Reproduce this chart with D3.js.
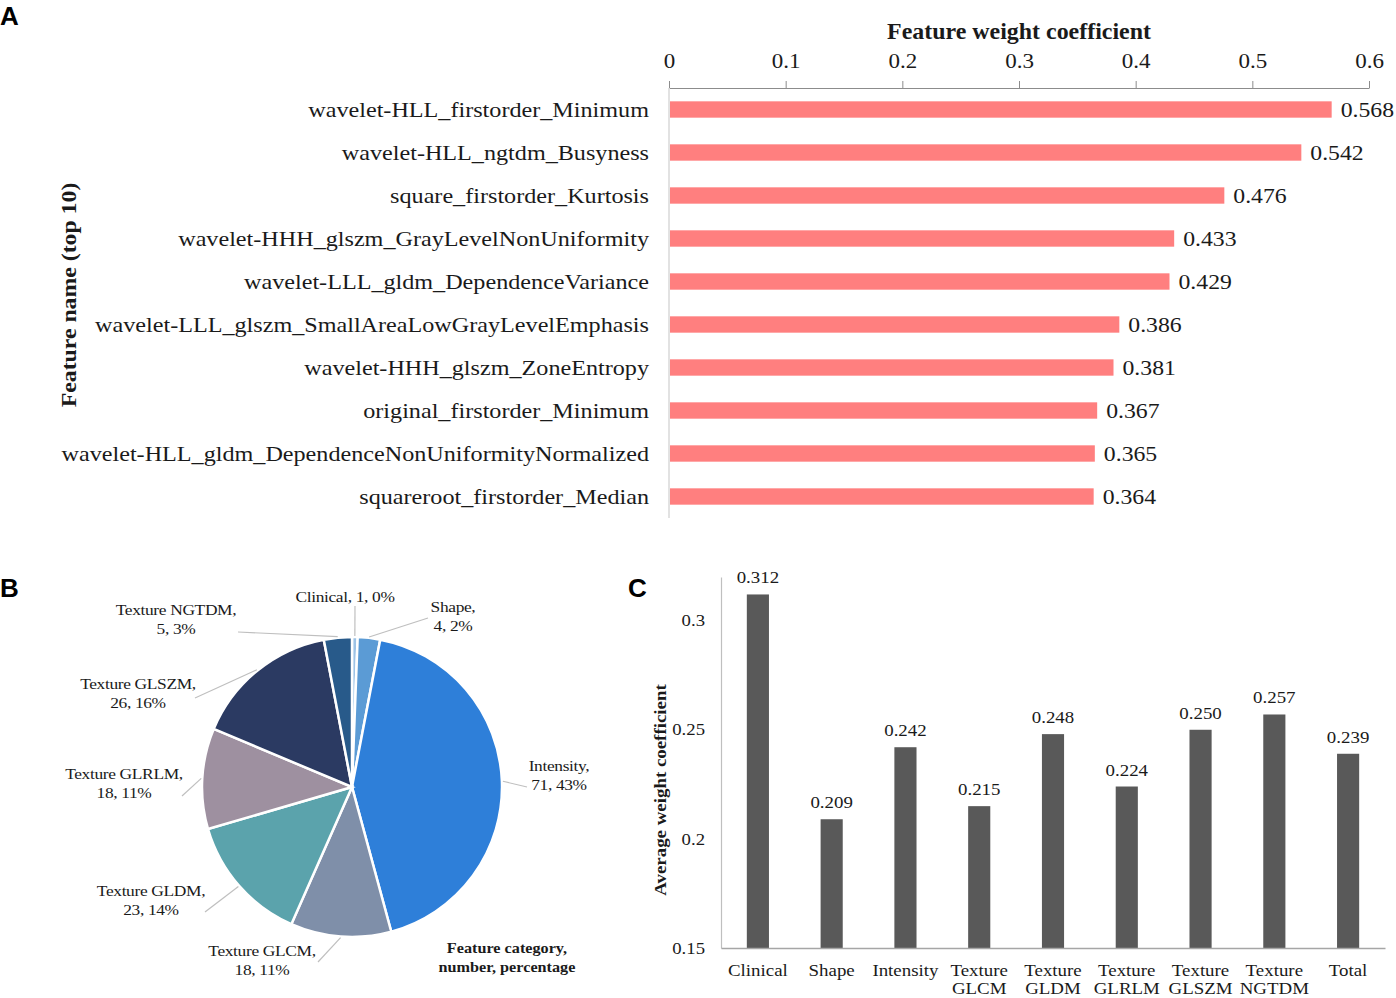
<!DOCTYPE html>
<html>
<head>
<meta charset="utf-8">
<script src="https://cdn.jsdelivr.net/npm/d3@7"></script>
<style>
  body { margin: 0; background: #fff; }
  text { font-family: "Liberation Serif", "Times New Roman", serif; fill: #1a1a1a; }
  .panel { font-family: "Liberation Sans", Arial, sans-serif; font-weight: bold; font-size: 26px; fill: #000; }
</style>
</head>
<body>
<svg id="fig" width="1396" height="998"></svg>
<script>
// ---- panel A data
var features = [
  "wavelet-HLL_firstorder_Minimum",
  "wavelet-HLL_ngtdm_Busyness",
  "square_firstorder_Kurtosis",
  "wavelet-HHH_glszm_GrayLevelNonUniformity",
  "wavelet-LLL_gldm_DependenceVariance",
  "wavelet-LLL_glszm_SmallAreaLowGrayLevelEmphasis",
  "wavelet-HHH_glszm_ZoneEntropy",
  "original_firstorder_Minimum",
  "wavelet-HLL_gldm_DependenceNonUniformityNormalized",
  "squareroot_firstorder_Median"
];
var weights = [0.568, 0.542, 0.476, 0.433, 0.429, 0.386, 0.381, 0.367, 0.365, 0.364];
var weightTicks = [0, 0.1, 0.2, 0.3, 0.4, 0.5, 0.6];

// ---- panel B data
var pieCats = ["Clinical", "Shape", "Intensity", "Texture GLCM", "Texture GLDM", "Texture GLRLM", "Texture GLSZM", "Texture NGTDM"];
var pieCounts = [1, 4, 71, 18, 23, 18, 26, 5];
var piePct = ["0%", "2%", "43%", "11%", "14%", "11%", "16%", "3%"];

// ---- panel C data
var groups = ["Clinical", "Shape", "Intensity", "Texture GLCM", "Texture GLDM", "Texture GLRLM", "Texture GLSZM", "Texture NGTDM", "Total"];
var avgWeights = [0.312, 0.209, 0.242, 0.215, 0.248, 0.224, 0.250, 0.257, 0.239];
var avgTicks = [0.15, 0.2, 0.25, 0.3];

var svg = d3.select("#fig");

// the source figure uses a wider serif, so stretch text horizontally
function stretch(sel, k) {
  sel.each(function() {
    var w = this.getComputedTextLength();
    d3.select(this).attr("textLength", w * k).attr("lengthAdjust", "spacingAndGlyphs");
  });
}

// panel letters
svg.append("text").attr("class", "panel").attr("x", 0).attr("y", 25).text("A");
svg.append("text").attr("class", "panel").attr("x", 0).attr("y", 597).text("B");
svg.append("text").attr("class", "panel").attr("x", 628).attr("y", 597).text("C");

// ================= A =================
var xA = d3.scaleLinear().domain([0, 0.6]).range([669, 1369]);
var yA = d3.scaleBand().domain(features).range([88, 518]).paddingInner(0.62).paddingOuter(0.31);

var gA = svg.append("g");

var axA = gA.append("g")
  .attr("transform", "translate(0,88)")
  .call(d3.axisTop(xA).tickValues(weightTicks).tickSize(7).tickSizeOuter(0)
        .tickFormat(function(d) { return d === 0 ? "0" : d3.format(".1f")(d); }));
axA.select(".domain").attr("stroke", "#8c8c8c").attr("stroke-width", 1.2);
axA.selectAll(".tick line").attr("stroke", "#8c8c8c");
axA.selectAll(".tick text").attr("font-family", "Liberation Serif").attr("font-size", 20)
  .attr("fill", "#1a1a1a").attr("dy", "-0.5em");
stretch(axA.selectAll(".tick text"), 1.15);

gA.append("line").attr("x1", xA(0)).attr("x2", xA(0)).attr("y1", 88).attr("y2", 518)
  .attr("stroke", "#d9d9d9").attr("stroke-width", 1.5);

gA.append("text").attr("x", 1019).attr("y", 39).attr("text-anchor", "middle")
  .attr("font-size", 23).attr("font-weight", "bold").text("Feature weight coefficient")
  .call(stretch, 1.04);

gA.selectAll("rect.fw").data(weights).enter().append("rect")
  .attr("class", "fw")
  .attr("x", xA(0) + 1)
  .attr("y", function(d, i) { return yA(features[i]); })
  .attr("width", function(d) { return xA(d) - xA(0) - 1; })
  .attr("height", yA.bandwidth())
  .attr("fill", "#ff7f7f");

gA.selectAll("text.fv").data(weights).enter().append("text")
  .attr("class", "fv")
  .attr("x", function(d) { return xA(d) + 9; })
  .attr("y", function(d, i) { return yA(features[i]) + yA.bandwidth() / 2; })
  .attr("dy", "0.36em").attr("font-size", 21)
  .text(function(d) { return d3.format(".3f")(d); })
  .call(stretch, 1.13);

gA.selectAll("text.fn").data(features).enter().append("text")
  .attr("class", "fn")
  .attr("x", 649)
  .attr("y", function(d) { return yA(d) + yA.bandwidth() / 2; })
  .attr("dy", "0.36em").attr("text-anchor", "end").attr("font-size", 21)
  .text(function(d) { return d; })
  .call(stretch, 1.15);

gA.append("text").attr("transform", "translate(76,295) rotate(-90)")
  .attr("text-anchor", "middle").attr("font-size", 22).attr("font-weight", "bold")
  .text("Feature name (top 10)")
  .call(stretch, 1.08);

// ================= B =================
var pieColors = ["#9dc3e6", "#5b9bd5", "#2e7fd9", "#7f8fa9", "#5ba3ac", "#9e90a0", "#2b3a62", "#285a8a"];
// label layout: text centre, first-line baseline, and leader end point
var pieLabelPos = [
  { x: 345, y: 602, lx: 355, ly: 606, one: true },
  { x: 453, y: 612, lx: 428, ly: 618 },
  { x: 559, y: 771, lx: 527, ly: 787 },
  { x: 262, y: 956, lx: 318, ly: 962 },
  { x: 151, y: 896, lx: 205, ly: 912 },
  { x: 124, y: 779, lx: 182, ly: 796 },
  { x: 138, y: 689, lx: 195, ly: 698 },
  { x: 176, y: 615, lx: 238, ly: 632 }
];
var cx = 352, cy = 787, R = 150;
var pie = d3.pie().sort(null).value(function(d) { return d; });
var arcs = pie(pieCounts);
var arc = d3.arc().innerRadius(0).outerRadius(R);

var gB = svg.append("g");
gB.append("g").attr("transform", "translate(" + cx + "," + cy + ")")
  .selectAll("path").data(arcs).enter().append("path")
  .attr("d", arc)
  .attr("fill", function(d, i) { return pieColors[i]; })
  .attr("stroke", "#fff").attr("stroke-width", 2.5);

gB.selectAll("line.lead").data(arcs).enter().append("line")
  .attr("class", "lead")
  .attr("x1", function(d) { var a = (d.startAngle + d.endAngle) / 2; return cx + (R + 1) * Math.sin(a); })
  .attr("y1", function(d) { var a = (d.startAngle + d.endAngle) / 2; return cy - (R + 1) * Math.cos(a); })
  .attr("x2", function(d, i) { return pieLabelPos[i].lx; })
  .attr("y2", function(d, i) { return pieLabelPos[i].ly; })
  .attr("stroke", "#bfbfbf").attr("stroke-width", 1.2);

pieCats.forEach(function(c, i) {
  var p = pieLabelPos[i];
  var lines = p.one ? [c + ",  " + pieCounts[i] + ", " + piePct[i]]
                    : [c + ",", pieCounts[i] + ", " + piePct[i]];
  lines.forEach(function(s, j) {
    gB.append("text").attr("x", p.x).attr("y", p.y + j * 19).attr("text-anchor", "middle")
      .attr("font-size", 15).attr("letter-spacing", "-0.3").text(s)
      .call(stretch, 1.16);
  });
});

["Feature category,", "number, percentage"].forEach(function(s, j) {
  gB.append("text").attr("x", 507).attr("y", 953 + j * 19).attr("text-anchor", "middle")
    .attr("font-size", 15).attr("font-weight", "bold").text(s)
    .call(stretch, 1.08);
});

// ================= C =================
var xC = d3.scaleBand().domain(groups).range([721, 1385]).paddingInner(0.7).paddingOuter(0.35);
var yC = d3.scaleLinear().domain([0.15, 0.32]).range([948, 577]);

var gC = svg.append("g");

var ayC = gC.append("g").attr("transform", "translate(721,0)")
  .call(d3.axisLeft(yC).tickValues(avgTicks).tickSize(0).tickPadding(16)
        .tickFormat(function(d) { return String(+d.toFixed(2)); }));
ayC.select(".domain").attr("stroke", "#bfbfbf").attr("stroke-width", 1.2);
ayC.selectAll(".tick text").attr("font-family", "Liberation Serif").attr("font-size", 16).attr("fill", "#1a1a1a");
stretch(ayC.selectAll(".tick text"), 1.17);

gC.selectAll("rect.aw").data(avgWeights).enter().append("rect")
  .attr("class", "aw")
  .attr("x", function(d, i) { return xC(groups[i]); })
  .attr("y", function(d) { return yC(d); })
  .attr("width", xC.bandwidth())
  .attr("height", function(d) { return yC(0.15) - yC(d); })
  .attr("fill", "#595959");

var axC = gC.append("g").attr("transform", "translate(0,948)")
  .call(d3.axisBottom(xC).tickSize(0).tickPadding(0).tickFormat(""));
axC.select(".domain").attr("stroke", "#a6a6a6").attr("stroke-width", 1.5);

groups.forEach(function(g) {
  g.split(" ").forEach(function(p, j) {
    gC.append("text").attr("x", xC(g) + xC.bandwidth() / 2).attr("y", 976 + j * 18)
      .attr("text-anchor", "middle").attr("font-size", 16).text(p)
      .call(stretch, 1.18);
  });
});

gC.selectAll("text.av").data(avgWeights).enter().append("text")
  .attr("class", "av")
  .attr("x", function(d, i) { return xC(groups[i]) + xC.bandwidth() / 2; })
  .attr("y", function(d) { return yC(d) - 11; })
  .attr("text-anchor", "middle").attr("font-size", 16)
  .text(function(d) { return d3.format(".3f")(d); })
  .call(stretch, 1.18);

gC.append("text").attr("transform", "translate(666,790) rotate(-90)")
  .attr("text-anchor", "middle").attr("font-size", 16).attr("font-weight", "bold")
  .text("Average weight coefficient")
  .call(stretch, 1.18);
</script>
</body>
</html>
